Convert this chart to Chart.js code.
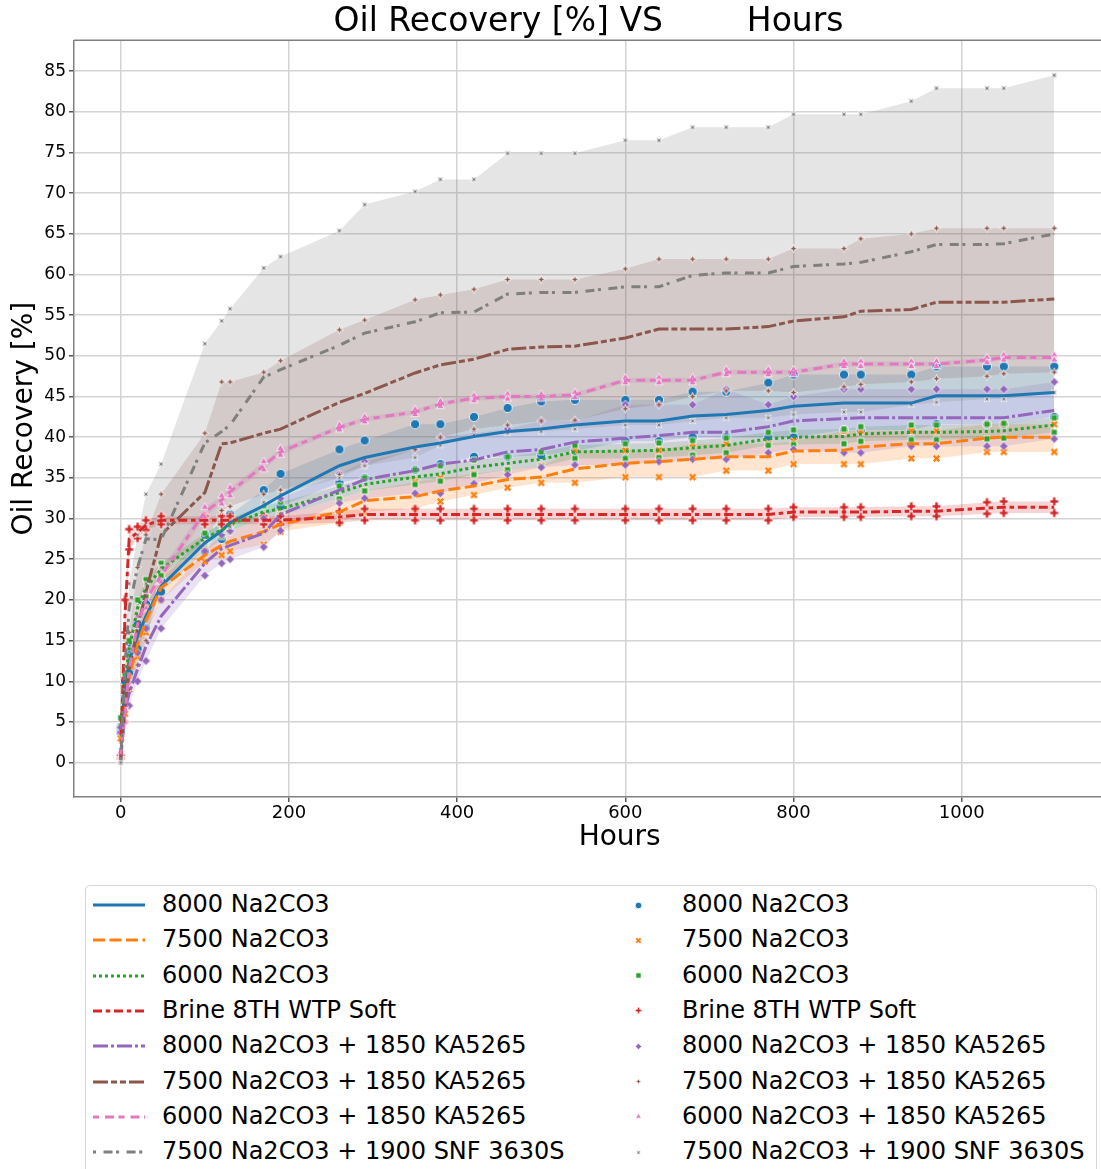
<!DOCTYPE html>
<html>
<head>
<meta charset="utf-8">
<title>Oil Recovery vs Hours</title>
<script src="https://cdn.jsdelivr.net/npm/chart.js@4.4.1/dist/chart.umd.min.js"></script>
<style>
  html, body { margin: 0; padding: 0; background: #fff; overflow: hidden; }
  #wrap { position: relative; width: 1101px; height: 1169px; overflow: hidden; }
  #chart { position: absolute; left: 0; top: 0; }
  #legend { position: absolute; left: 85px; top: 885px; width: 1012px; height: 320px;
            border: 1px solid #d6d6d6; border-radius: 5px; box-sizing: border-box; background: #fff; }
  .lbl { position: absolute; height: 30px; line-height: 30px; font: 24px "DejaVu Sans"; color: #000; white-space: nowrap; }
  .sw { position: absolute; }
</style>
</head>
<body>
<div id="wrap">
  <canvas id="chart" width="1108" height="870"></canvas>
  <div id="legend"></div>
</div>
<script>
// sampling times (hours)
const hours = [0, 5, 10, 20, 30, 48, 100, 120, 130, 170, 190, 260, 290, 350, 380, 420,
               460, 500, 540, 600, 640, 680, 720, 770, 800, 860, 880, 940, 970, 1030, 1050, 1110];

const seriesLabels = ['8000 Na2CO3', '7500 Na2CO3', '6000 Na2CO3', 'Brine 8TH WTP Soft',
  '8000 Na2CO3 + 1850 KA5265', '7500 Na2CO3 + 1850 KA5265', '6000 Na2CO3 + 1850 KA5265',
  '7500 Na2CO3 + 1900 SNF 3630S'];

// oil recovery [%]: mean of replicates and the lower / upper replicate
const na8000Mean = [4, 9, 12.5, 15.5, 18, 21.7, 27, 28.5, 29.5, 31.6, 32.8, 36.5, 37.5, 38.8, 39.3, 40.1, 40.7, 41, 41.5, 42, 42, 42.6, 42.8, 43.3, 43.8, 44.2, 44.2, 44.2, 45.1, 45.1, 45.1, 45.5];
const na8000High = [4.3, 10, 14, 17, 19.5, 22.5, 28, 29.5, 30.5, 33.5, 35.5, 38.5, 39.6, 41.6, 41.6, 42.5, 43.6, 44.4, 44.6, 44.6, 44.6, 45.6, 45.6, 46.7, 47.7, 47.7, 47.7, 47.7, 48.7, 48.7, 48.7, 48.7];
const na8000Low  = [3.7, 8, 11, 14, 16.5, 21, 26, 27.5, 28.5, 30, 31.5, 34.4, 35, 36, 36.7, 37.6, 37.6, 37.8, 38.3, 39.5, 39.5, 40, 40, 40, 40, 40.9, 40.9, 40.9, 41.6, 41.6, 41.6, 42.5];

const na7500Mean = [3.5, 7.5, 10.5, 14.5, 17.5, 21.5, 25.5, 26.7, 27.2, 28.4, 29.3, 30.8, 32.2, 32.7, 33.4, 34, 34.8, 35.1, 36.1, 36.8, 37, 37.3, 37.6, 37.6, 38.3, 38.4, 38.8, 39.2, 39.2, 39.9, 40, 40];
const na7500High = [4, 9, 12, 16, 19, 23, 26.5, 28, 28.5, 30, 30.5, 32.3, 33.4, 34.5, 35, 35.5, 36, 36.5, 38.4, 38.4, 38.4, 39.2, 39.2, 39.2, 39.5, 40.8, 40.8, 40.8, 40.8, 41.6, 41.6, 41.6];
const na7500Low  = [3, 6, 9, 13, 16, 20, 24.7, 25.5, 26, 26.8, 28.4, 29.5, 30.8, 31.2, 32.1, 32.9, 33.8, 34.4, 34.4, 35.1, 35.1, 35.1, 35.9, 35.9, 36.7, 36.7, 36.7, 37.4, 37.4, 38.2, 38.2, 38.2];

const na6000Mean = [5, 10, 14, 19, 21.5, 23.8, 27.6, 28.6, 29.3, 30.8, 31.2, 33.2, 34.2, 35.1, 35.5, 36.3, 36.8, 37.3, 38.2, 38.3, 38.4, 38.7, 39, 39.8, 40, 40.1, 40.4, 40.6, 40.6, 40.7, 40.8, 41.5];
const na6000High = [5.5, 11, 15, 20, 22.5, 24.5, 28.2, 29.5, 30, 31.6, 32, 34, 35, 36, 36.5, 37.2, 37.6, 38.2, 39, 39.2, 39.3, 39.6, 39.9, 40.6, 40.9, 41, 41.3, 41.5, 41.5, 41.6, 41.7, 42.4];
const na6000Low  = [4.5, 9, 13, 18, 20.5, 23, 26.9, 27.8, 28.5, 30, 30.4, 32.4, 33.4, 34.2, 34.6, 35.4, 36, 36.4, 37.4, 37.4, 37.5, 37.8, 38.1, 39, 39.1, 39.2, 39.5, 39.7, 39.7, 39.8, 39.9, 40.6];

const brineMean = [0.7, 18, 27.5, 28.3, 29.2, 29.8, 29.8, 29.8, 29.8, 29.8, 29.8, 30.2, 30.5, 30.5, 30.5, 30.5, 30.5, 30.5, 30.5, 30.5, 30.5, 30.5, 30.5, 30.5, 30.8, 30.8, 30.8, 30.9, 30.9, 31.3, 31.4, 31.4];
const brineHigh = [0.9, 20, 28.7, 29, 29.8, 30.3, 30.3, 30.3, 30.3, 30.3, 30.3, 30.9, 31.2, 31.2, 31.2, 31.2, 31.2, 31.2, 31.2, 31.2, 31.2, 31.2, 31.2, 31.2, 31.4, 31.4, 31.4, 31.5, 31.5, 32, 32.1, 32.1];
const brineLow  = [0.5, 16, 26.2, 27.6, 28.6, 29.3, 29.3, 29.3, 29.3, 29.3, 29.3, 29.5, 29.8, 29.8, 29.8, 29.8, 29.8, 29.8, 29.8, 29.8, 29.8, 29.8, 29.8, 29.8, 30.2, 30.2, 30.2, 30.3, 30.3, 30.6, 30.7, 30.7];

const na8000KaMean = [4, 6.5, 8.5, 11.5, 14.3, 18, 24.5, 26.3, 26.7, 28.2, 30.5, 33.5, 34.8, 35.9, 36.7, 37.2, 38.2, 38.5, 39.4, 39.9, 40.2, 40.6, 40.6, 41.3, 42, 42.3, 42.4, 42.4, 42.4, 42.4, 42.4, 43.3];
const na8000KaHigh = [4.3, 8, 10.5, 13.5, 16.5, 20, 26, 28, 28.5, 30, 32.5, 35.5, 37, 38.5, 40, 40.5, 41, 42, 42, 44, 44, 44, 45.9, 44, 45, 45.9, 45.9, 45.9, 45.9, 45.9, 45.9, 46.8];
const na8000KaLow  = [3.7, 5, 7, 10, 12.5, 16.5, 23, 24.5, 25, 26.5, 28.5, 31.9, 32.5, 33.1, 33.1, 34.3, 35.4, 36.3, 36.6, 36.6, 37, 37.3, 37.3, 38.1, 38.5, 38.1, 38.1, 38.9, 38.9, 38.9, 38.9, 39.8];

const na7500KaMean = [0.3, 7, 11.5, 16.5, 21, 28, 33.2, 39.2, 39.3, 40.5, 41, 44.3, 45.4, 47.9, 48.9, 49.6, 50.8, 51.1, 51.2, 52.2, 53.3, 53.3, 53.3, 53.6, 54.3, 54.8, 55.5, 55.7, 56.6, 56.6, 56.6, 57];
const na7500KaHigh = [0.5, 9, 16, 24, 28, 33, 40.5, 46.8, 46.8, 48, 49.4, 53.2, 54.4, 56.9, 57.5, 58.2, 59.4, 59.4, 59.4, 60.7, 61.9, 61.9, 61.9, 61.9, 63.2, 63.2, 64.4, 65, 65.7, 65.7, 65.7, 65.7];
const na7500KaLow  = [0, 5, 9, 12, 15, 22, 27, 31, 31.5, 33, 33.5, 35.4, 36.5, 38.5, 40, 41, 41.5, 42, 42.1, 43.5, 44, 45, 45.7, 45.7, 45.5, 46.2, 46.5, 46.8, 47.2, 47.5, 47.8, 48];

const na6000KaMean = [1, 6, 11.5, 17, 20, 23, 30.8, 32.3, 33.3, 36.5, 38.2, 41.2, 42.2, 43.1, 44.1, 44.8, 45, 45, 45.2, 47, 47, 47, 48, 48, 48, 49, 49, 49, 49, 49.5, 49.8, 49.8];
const na6000KaHigh = [1.3, 7, 12.5, 18, 21, 23.8, 31.4, 32.8, 33.8, 37, 38.6, 41.5, 42.5, 43.4, 44.4, 45.1, 45.3, 45.3, 45.5, 47.3, 47.3, 47.3, 48.3, 48.3, 48.3, 49.3, 49.3, 49.3, 49.3, 49.8, 50.1, 50.1];
const na6000KaLow  = [0.7, 5, 10.5, 16, 19, 22.2, 30.2, 31.8, 32.8, 36, 37.8, 40.9, 41.9, 42.8, 43.8, 44.5, 44.7, 44.7, 44.9, 46.7, 46.7, 46.7, 47.7, 47.7, 47.7, 48.7, 48.7, 48.7, 48.7, 49.2, 49.5, 49.5];

const snfMean = [0.3, 12, 19, 24, 27.5, 27.4, 39.3, 40.7, 41.5, 47.4, 48.3, 51.3, 52.8, 54.2, 55.3, 55.4, 57.6, 57.8, 57.8, 58.5, 58.5, 59.9, 60.2, 60.2, 61, 61.3, 61.5, 62.8, 63.7, 63.7, 63.8, 65];
const snfHigh = [0.5, 14, 22, 28, 33, 36.7, 51.5, 54.3, 55.8, 60.8, 62.2, 65.4, 68.6, 70.2, 71.7, 71.7, 74.9, 74.9, 74.9, 76.5, 76.5, 78.1, 78.1, 78.1, 79.7, 79.7, 79.7, 81.3, 82.9, 82.9, 82.9, 84.5];
const snfLow  = [0, 8, 14, 19, 22, 24, 27, 28.5, 29, 32, 33, 35, 36.5, 37.5, 39, 40.3, 40.5, 40.7, 41, 41.5, 41.5, 42, 42.4, 42.4, 42.8, 43.1, 43.1, 44, 44.3, 44.7, 44.7, 45.5];

const xTicks = [0, 200, 400, 600, 800, 1000];
const yTicks = [0, 5, 10, 15, 20, 25, 30, 35, 40, 45, 50, 55, 60, 65, 70, 75, 80, 85];

const series = [
  { mean: na8000Mean, low: na8000Low, high: na8000High },
  { mean: na7500Mean, low: na7500Low, high: na7500High },
  { mean: na6000Mean, low: na6000Low, high: na6000High },
  { mean: brineMean, low: brineLow, high: brineHigh },
  { mean: na8000KaMean, low: na8000KaLow, high: na8000KaHigh },
  { mean: na7500KaMean, low: na7500KaLow, high: na7500KaHigh },
  { mean: na6000KaMean, low: na6000KaLow, high: na6000KaHigh },
  { mean: snfMean, low: snfLow, high: snfHigh }
];

// styling
const colors = ['#1f77b4', '#ff7f0e', '#2ca02c', '#d62728', '#9467bd', '#8c564b', '#e377c2', '#7f7f7f'];
const dashes = [[], [12, 4.5], [3, 3], [9, 3.75, 4.5, 3.75], [15, 3, 3, 3], [15, 3, 6, 3, 6, 3], [6, 6, 9, 4.5], [3, 7.5, 9, 3.6]];
const shapes = ['circle', 'x', 'square', 'plus', 'diamond', 'star4', 'triangle', 'star4x'];
const plotMarkerSize = [4.6, 4.2, 3.8, 4.4, 4.4, 4.2, 4.4, 4.0];

function rgba(hex, a) {
  const n = parseInt(hex.slice(1), 16);
  return `rgba(${n >> 16}, ${(n >> 8) & 255}, ${n & 255}, ${a})`;
}

// small canvas used as a point style
function markerCanvas(shape, color, r) {
  const size = Math.ceil(2 * r + 4);
  const c = document.createElement('canvas');
  c.width = size; c.height = size;
  const g = c.getContext('2d');
  g.translate(size / 2, size / 2);
  const rot = (pts, a) => pts.map(([x, y]) => [x * Math.cos(a) - y * Math.sin(a), x * Math.sin(a) + y * Math.cos(a)]);
  const poly = pts => { g.moveTo(pts[0][0], pts[0][1]); pts.slice(1).forEach(p => g.lineTo(p[0], p[1])); g.closePath(); };
  const w = r * 0.36;
  const plus = [[-w, -r], [w, -r], [w, -w], [r, -w], [r, w], [w, w], [w, r], [-w, r], [-w, w], [-r, w], [-r, -w], [-w, -w]];
  const star = [];
  for (let k = 0; k < 8; k++) {
    const a = k * Math.PI / 4 - Math.PI / 2;
    const rr = k % 2 ? r * 0.38 : r;
    star.push([rr * Math.cos(a), rr * Math.sin(a)]);
  }
  g.beginPath();
  switch (shape) {
    case 'circle': g.arc(0, 0, r, 0, Math.PI * 2); break;
    case 'x': poly(rot(plus, Math.PI / 4)); break;
    case 'square': g.rect(-0.8 * r, -0.8 * r, 1.6 * r, 1.6 * r); break;
    case 'plus': poly(plus); break;
    case 'diamond': poly([[0, -r], [r, 0], [0, r], [-r, 0]]); break;
    case 'star4': poly(star); break;
    case 'triangle': poly([[0, -r], [0.87 * r, 0.5 * r], [-0.87 * r, 0.5 * r]]); break;
    case 'star4x': poly(rot(star, Math.PI / 4)); break;
  }
  g.fillStyle = color;
  g.fill();
  g.lineWidth = 0.8;
  g.strokeStyle = '#fff';
  g.stroke();
  return c;
}

const toPoints = arr => hours.map((h, k) => ({ x: h, y: arr[k] }));

const datasets = [];
series.forEach((s, i) => {
  // band between lower and upper replicate
  datasets.push({ data: toPoints(s.low), borderColor: 'transparent', borderWidth: 0, pointRadius: 0, fill: false, order: 40 - i });
  datasets.push({ data: toPoints(s.high), borderColor: 'transparent', borderWidth: 0, pointRadius: 0,
                  fill: '-1', backgroundColor: rgba(colors[i], 0.2), order: 40 - i });
  // replicate markers
  datasets.push({ data: toPoints(s.high).concat(toPoints(s.low)), showLine: false, fill: false,
                  pointStyle: markerCanvas(shapes[i], colors[i], plotMarkerSize[i]), pointRadius: 4, order: 20 - i });
  // mean line
  datasets.push({ label: seriesLabels[i], data: toPoints(s.mean), borderColor: colors[i], borderWidth: 3,
                  borderDash: dashes[i], pointRadius: 0, fill: false, tension: 0, order: 10 - i });
});

// top and right spines
const framePlugin = {
  id: 'frame',
  afterDatasetsDraw(chart) {
    const { ctx, chartArea: a } = chart;
    ctx.save();
    ctx.strokeStyle = '#808080';
    ctx.lineWidth = 1.5;
    ctx.beginPath();
    ctx.moveTo(a.left, a.top); ctx.lineTo(a.right, a.top); ctx.lineTo(a.right, a.bottom);
    ctx.stroke();
    ctx.restore();
  }
};

Chart.defaults.font.family = 'DejaVu Sans';
Chart.defaults.color = '#000';

new Chart(document.getElementById('chart'), {
  type: 'line',
  data: { datasets },
  plugins: [framePlugin],
  options: {
    responsive: false,
    animation: false,
    events: [],
    layout: { padding: { left: 0, right: 1, top: 0, bottom: 0 } },
    plugins: {
      legend: { display: false },
      tooltip: { enabled: false },
      title: {
        display: true, fullSize: false,
        text: 'Oil Recovery [%] VS        Hours',
        font: { size: 33, weight: 'normal', lineHeight: 1.1 }, color: '#000',
        padding: { top: 4, bottom: 0 }
      }
    },
    scales: {
      x: {
        type: 'linear', min: -55.6, max: 1168,
        afterBuildTicks: sc => { sc.ticks = xTicks.map(v => ({ value: v })); },
        afterFit: sc => { sc.height = 73; },
        grid: { color: '#d3d3d3', lineWidth: 1.5, tickColor: '#555', tickLength: 5 },
        border: { color: '#808080', width: 1.5 },
        ticks: { font: { size: 18 }, color: '#000', padding: 1, maxRotation: 0, callback: v => String(v) },
        title: { display: true, text: '       Hours', font: { size: 28 }, color: '#000', padding: { top: 0, bottom: 15 } }
      },
      y: {
        type: 'linear', min: -4.23, max: 88.8,
        afterBuildTicks: sc => { sc.ticks = yTicks.map(v => ({ value: v })); },
        afterFit: sc => { sc.width = 74; },
        grid: { color: '#d3d3d3', lineWidth: 1.5, tickColor: '#555', tickLength: 5 },
        border: { color: '#808080', width: 1.5 },
        ticks: { font: { size: 17 }, color: '#000', padding: 3, callback: v => String(v) },
        title: { display: true, text: 'Oil Recovery [%]', font: { size: 28 }, color: '#000', padding: { top: 8, bottom: 0 } }
      }
    }
  }
});

// legend: line styles on the left, marker styles on the right
const legend = document.getElementById('legend');
seriesLabels.forEach((label, i) => {
  const cy = 19 + i * 35.3;

  const ls = document.createElement('canvas');
  ls.width = 54; ls.height = 12;
  ls.className = 'sw';
  ls.style.left = '6px'; ls.style.top = (cy - 6) + 'px';
  const g = ls.getContext('2d');
  g.strokeStyle = colors[i]; g.lineWidth = 3; g.setLineDash(dashes[i]);
  g.beginPath(); g.moveTo(1, 6); g.lineTo(53, 6); g.stroke();
  legend.appendChild(ls);

  const t1 = document.createElement('div');
  t1.className = 'lbl'; t1.textContent = label;
  t1.style.left = '76px'; t1.style.top = (cy - 15) + 'px';
  legend.appendChild(t1);

  const mk = markerCanvas(shapes[i], colors[i], 3.3);
  mk.className = 'sw';
  mk.style.left = (552 - mk.width / 2) + 'px'; mk.style.top = (cy - mk.height / 2) + 'px';
  legend.appendChild(mk);

  const t2 = document.createElement('div');
  t2.className = 'lbl'; t2.textContent = label;
  t2.style.left = '596px'; t2.style.top = (cy - 15) + 'px';
  legend.appendChild(t2);
});
</script>
</body>
</html>
